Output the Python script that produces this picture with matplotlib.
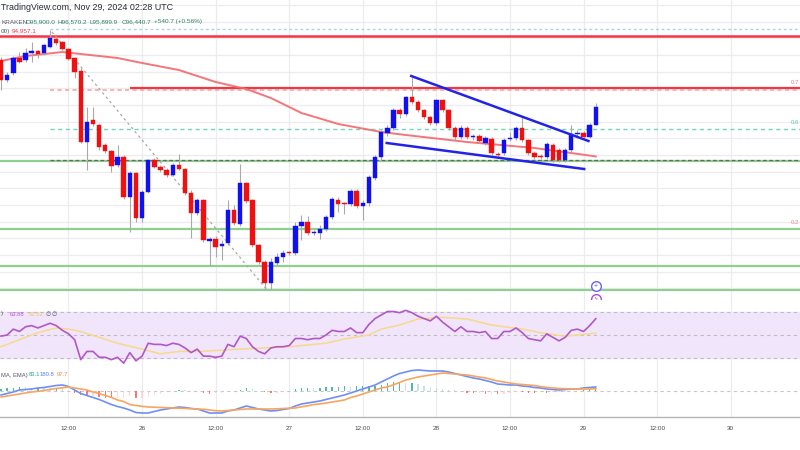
import matplotlib
matplotlib.use("Agg")
import matplotlib.pyplot as plt
import numpy as np

# ---------------- data (BTC/USD 1h, Kraken) ----------------
opens = [97850, 97250, 97460, 97910, 97850, 98060, 98120, 98060, 98240, 98480,
         98390, 98180, 97910, 97520, 95390, 96050, 95900, 95300, 95120, 94700,
         94940, 93740, 94460, 93110, 93890, 94850, 94640, 94550, 94400, 94700,
         94580, 93860, 93260, 93650, 92420, 92480, 92270, 92360, 93350, 92930,
         94160, 93650, 92300, 91790, 91160, 91760, 91940, 92060, 92060, 92870,
         92990, 92660, 92660, 92780, 93140, 93650, 93530, 93530, 93920, 93470,
         93560, 94310, 94940, 95660, 95810, 96350, 96230, 96740, 96590, 96350,
         96140, 95960, 96650, 96350, 95810, 95540, 95810, 95540, 95570, 95360,
         95480, 95030, 95060, 95480, 95510, 95810, 95450, 95060, 94970, 94940,
         95300, 95150, 94850, 95150, 95630, 95660, 95540, 95900.0]
highs = [97940, 97490, 97970, 98090, 98210, 98390, 98150, 98330, 98750, 98540,
         98420, 98210, 97940, 97610, 96440, 96440, 95930, 95360, 95150, 95300,
         95000, 94520, 94490, 93950, 94880, 94910, 94700, 94610, 94760, 95030,
         94610, 93950, 93710, 93680, 92540, 92570, 92450, 93650, 93500, 94730,
         94190, 93680, 92330, 91850, 91910, 92060, 92150, 92120, 92990, 93200,
         93170, 92750, 92900, 93200, 93740, 93740, 93590, 93980, 93980, 93650,
         94400, 95000, 95750, 95900, 96410, 96410, 96770, 97340, 96650, 96380,
         96170, 96680, 96680, 96380, 95870, 95900, 95870, 95630, 95630, 95570,
         95540, 95090, 95510, 95690, 95870, 96140, 95480, 95120, 95030, 95390,
         95360, 95210, 95210, 95900, 95750, 95720, 95960, 96570.2]
lows = [96950, 97190, 97400, 97760, 97790, 97790, 97910, 98000, 98210, 98300,
        98150, 97850, 97310, 95360, 94550, 95870, 95150, 95060, 94490, 94640,
        93680, 92690, 92990, 92990, 93860, 94610, 94490, 94340, 94370, 94550,
        93800, 92510, 93200, 92390, 91670, 91940, 91850, 92300, 92900, 92870,
        93560, 92240, 91730, 90950, 90950, 91700, 91790, 92000, 92000, 92450,
        92600, 92600, 92480, 92720, 93080, 93290, 93230, 93470, 93410, 93050,
        93470, 94250, 94850, 95570, 95750, 96110, 96170, 96530, 96290, 96080,
        95900, 95900, 96290, 95750, 95450, 95480, 95480, 95450, 95360, 95300,
        95000, 94910, 95000, 95420, 95450, 95390, 95000, 94880, 94880, 94880,
        94790, 94790, 94790, 95090, 95570, 95510, 95510, 95899.9]
closes = [97250, 97400, 97910, 97790, 98060, 98120, 98030, 98300, 98510, 98360,
          98180, 97880, 97490, 95390, 95990, 95930, 95240, 95120, 94670, 94940,
          93740, 94460, 93110, 93890, 94850, 94640, 94550, 94400, 94700, 94580,
          93860, 93260, 93650, 92450, 92480, 92240, 92330, 93350, 92960, 94160,
          93620, 92300, 91790, 91160, 91790, 91940, 92060, 92050, 92870, 92990,
          92660, 92670, 92780, 93140, 93680, 93530, 93520, 93920, 93470, 93560,
          94340, 94940, 95690, 95810, 96350, 96230, 96740, 96590, 96350, 96140,
          95960, 96650, 96350, 95810, 95540, 95810, 95540, 95550, 95420, 95510,
          95060, 95000, 95450, 95510, 95810, 95450, 95060, 94940, 94940, 95330,
          94850, 94850, 95150, 95630, 95660, 95540, 95900, 96440.7]

# 100-period SMA (anchor readings)
sma_idx = [0, 4, 10, 13, 19, 23, 29, 35, 40, 44, 49, 55, 62, 66, 76, 87, 97]
sma_val = [97820, 97970, 98090, 98030, 97910, 97760, 97550, 97190, 96980, 96710,
           96260, 95930, 95690, 95600, 95390, 95210, 94957.1]

# RSI (14) and its moving average
rsi = [49, 50, 55, 53, 57, 58, 56, 58, 60, 58,
       54, 51, 46, 29, 36, 36, 31, 31, 29, 31,
       26, 35, 28, 32, 43, 42, 42, 41, 43, 42,
       39, 35, 38, 32, 32, 31, 32, 42, 40, 49,
       47, 40, 36, 34, 39, 40, 40, 41, 47, 47,
       46, 47, 47, 50, 54, 53, 53, 56, 52, 52,
       59, 64, 67, 70, 70, 69, 71, 69, 66, 64,
       62, 66, 61, 57, 53, 57, 53, 53, 52, 53,
       47, 47, 53, 53, 56, 52, 47, 46, 45, 51,
       48, 45, 48, 54, 55, 53, 58, 63.88]
rsi_ma_idx = [0, 3, 6, 9, 11, 13, 16, 19, 23, 26, 29, 32, 36, 39, 43, 47, 50, 53,
              56, 60, 62, 65, 68, 72, 76, 80, 85, 89, 92, 97]
rsi_ma_val = [40, 46, 52, 56, 55, 53, 48, 43, 38, 34, 36, 36, 37, 38, 39, 40, 41.5, 43,
              46.6, 50, 55, 58.5, 63.6, 65, 63.6, 58.5, 55, 51, 49, 51.52]

# MACD (12, 26, 9)
macd = [-180, -112, -45, 45, 68, 90, 135, 158, 202, 248,
        270, 202, 45, -112, -202, -292, -382, -495, -608, -698,
        -765, -855, -968, -990, -990, -922, -855, -810, -765, -720,
        -742, -788, -810, -900, -990, -990, -990, -900, -855, -765,
        -675, -742, -810, -855, -900, -878, -832, -788, -675, -585,
        -540, -495, -450, -382, -315, -248, -180, -90, 0, 90,
        180, 270, 405, 540, 675, 788, 855, 922, 945, 922,
        900, 900, 900, 855, 788, 720, 652, 585, 540, 472,
        405, 315, 292, 270, 270, 225, 202, 158, 135, 90,
        68, 45, 68, 90, 90, 135, 158, 180.8]
signal = [-270, -225, -180, -135, -90, -45, -14, 22, 68, 112,
          148, 180, 135, 90, 45, -45, -112, -202, -284, -405,
          -472, -608, -652, -688, -720, -729, -742, -752, -765, -774,
          -788, -796, -810, -824, -855, -886, -900, -878, -855, -832,
          -810, -810, -810, -810, -810, -801, -788, -774, -765, -711,
          -666, -608, -585, -540, -495, -450, -405, -292, -225, -135,
          -45, 45, 135, 180, 279, 382, 495, 562, 630, 675,
          720, 765, 810, 788, 765, 742, 720, 675, 630, 585,
          518, 450, 405, 360, 315, 292, 270, 248, 202, 158,
          135, 112, 104, 99, 90, 90, 90, 97.7]

# time axis (hourly bars, bar 0 = Nov 25 01:00)
tick_idx = [11, 23, 35, 47, 59, 71, 83, 95, 107, 119]
tick_lbl = ["12:00", "26", "12:00", "27", "12:00", "28", "12:00", "29", "12:00", "30"]

# drawn levels / tools
resistance_top = 98570
resistance_mid = 97010
support_levels = [94820, 92780, 91670, 90940]
fib_top = 98780
fib_786 = 96960
fib_618 = 95780
fib_500 = 94850
fib_start = 8
fib_diag_idx = [8.3, 43.4]
fib_diag_val = [98690, 90950]
wedge_upper_idx = [66.9, 95.8]
wedge_upper_val = [97370, 95420]
wedge_lower_idx = [62.9, 95.1]
wedge_lower_val = [95360, 94580]

# ---------------- figure ----------------
plt.rcParams['font.family'] = ['Liberation Sans', 'DejaVu Sans']
W, H = 800, 450
fig = plt.figure(figsize=(8, 4.5), dpi=100)
fig.patch.set_facecolor("white")


def rect(top, bottom):
    return [0, 1 - bottom / H, 1, (bottom - top) / H]


ax = fig.add_axes(rect(0, 300))
ax_rsi = fig.add_axes(rect(300, 366), sharex=ax)
ax_macd = fig.add_axes(rect(366, 417), sharex=ax)

XMIN, XMAX = -0.17, 130.3
grid_c = "#ececf0"
for a in (ax, ax_rsi, ax_macd):
    a.set_facecolor("white")
    for s in a.spines.values():
        s.set_visible(False)
    a.tick_params(left=False, labelleft=False, bottom=False, labelbottom=False)
    for t in tick_idx:
        a.axvline(t, color=grid_c, lw=0.9, zorder=0)
ax.set_xlim(XMIN, XMAX)

# ---- main pane ----
ax.set_ylim(90650, 99650)
for p in range(91000, 99600, 500):
    ax.axhline(p, color=grid_c, lw=0.9, zorder=0)

# levels
ax.axhline(resistance_top, color="#f23645", lw=1.8, zorder=2)
ax.hlines(resistance_mid, 21, XMAX, color="#f23645", lw=1.6, zorder=2)
ax.hlines(fib_top, fib_start, XMAX, color="#a9d3f2", lw=1.0, linestyles=(0, (2, 2)), zorder=2)
ax.hlines(fib_786, fib_start, XMAX, color="#f9a3a3", lw=1.2, linestyles=(0, (2.5, 2)), zorder=2)
ax.hlines(fib_618, fib_start, XMAX, color="#72d6bd", lw=1.0, linestyles=(0, (3, 2.5)), zorder=2)
for lv in support_levels:
    ax.axhline(lv, color="#8fd08f", lw=1.6, zorder=2)
ax.hlines(fib_500, fib_start, XMAX, color="#666666", lw=0.9, linestyles=(0, (3, 2)), zorder=2)
ax.plot(fib_diag_idx, fib_diag_val, color="#a8a8a8", lw=0.9, ls=(0, (2, 2.5)), zorder=2)

# SMA
ax.plot(sma_idx, sma_val, color="#f4676c", lw=1.4, zorder=3, alpha=0.9)

# candles
o = np.array(opens); c = np.array(closes); hi = np.array(highs); lo = np.array(lows)
idx = np.arange(len(o))
up = c >= o
cols = np.where(up, "#1010f0", "#f01010")
ax.vlines(idx, lo, hi, color="#a9a9a9", lw=0.8, zorder=4)
body_b = np.minimum(o, c)
body_h = np.maximum(np.abs(c - o), 35)
ax.bar(idx, body_h, bottom=body_b, width=0.72, color=cols, edgecolor=cols, lw=0.3, zorder=5)

# wedge
ax.plot(wedge_upper_idx, wedge_upper_val, color="#2323e6", lw=1.8, zorder=6)
ax.plot(wedge_lower_idx, wedge_lower_val, color="#2323e6", lw=1.8, zorder=6)

# event markers
ax.plot([97], [91070], marker="o", ms=7, mfc="white", mec="#6b63e8", mew=1.0, zorder=7)
ax.text(97, 91070, "+", color="#6b63e8", fontsize=5, ha="center", va="center", zorder=8)
ax.plot([97], [90680], marker="o", ms=7, mfc="white", mec="#b04cc8", mew=1.0, zorder=7)
ax.text(97, 90680, "ϟ", color="#b04cc8", fontsize=4.5, ha="center", va="center", zorder=8,
        family=['DejaVu Sans'])

# fib labels at right edge
for lv, lab, col in ((fib_786, "0.7", "#f07f86"), (fib_618, "0.6", "#5cc9ac"),
                     (support_levels[1], "0.2", "#f07f86")):
    ax.text(XMAX - 0.15, lv + 130, lab, color=col, fontsize=4.3, va="bottom", ha="right")

# ---- RSI pane ----
ax_rsi.set_ylim(23.6, 79.8)
ax_rsi.axhspan(30, 70, color="#f1e5fb", zorder=0.5)
for lv in (70, 50, 30):
    ax_rsi.axhline(lv, color="#bdbdbd", lw=0.8, ls=(0, (3, 3)), zorder=1)
ax_rsi.plot(idx, rsi, color="#b158c6", lw=1.2, zorder=3)
ax_rsi.plot(rsi_ma_idx, rsi_ma_val, color="#f6d98a", lw=1.1, zorder=2)

# ---- MACD pane ----
ax_macd.set_ylim(-1170, 1125)
ax_macd.axhline(0, color="#c8c8c8", lw=0.8, ls=(0, (3, 3)), zorder=1)
m = np.array(macd); s = np.array(signal)
hist = m - s
prev = np.concatenate([[hist[0]], hist[:-1]])
hcols = []
for hv, pv in zip(hist, prev):
    if hv >= 0:
        hcols.append("#26a69a" if hv >= pv else "#b2dfdb")
    else:
        hcols.append("#ffcdd2" if hv >= pv else "#ff5252")
ax_macd.bar(idx, hist, width=0.22, color=hcols, zorder=2, alpha=0.8)
ax_macd.plot(idx, macd, color="#6e8ff5", lw=1.2, zorder=3)
ax_macd.plot(idx, signal, color="#f8a560", lw=1.2, zorder=3)
ax_macd.spines['bottom'].set_visible(True)
ax_macd.spines['bottom'].set_color("#b5b5b5")
ax_macd.spines['bottom'].set_linewidth(1.0)
ax_macd.set_xticks(tick_idx)
ax_macd.set_xticklabels(tick_lbl)
ax_macd.tick_params(bottom=False, labelbottom=True, labelsize=4.6, labelcolor="#4a4a4a", pad=3)


# ---- header texts ----
def ftxt(x, y, s, **kw):
    fig.text(x / W, 1 - y / H, s, va="center", ha="left", **kw)


ftxt(1, 7, "TradingView.com, Nov 29, 2024 02:28 UTC", fontsize=6.4, color="#2a2e39")
ftxt(1, 22, "KRAKEN", fontsize=4.6, color="#555a66")
vals = [(26, "O95,900.0"), (58, "H96,570.2"), (90, "L95,899.9"), (122, "C96,440.7"),
        (154, "+540.7 (+0.56%)")]
for x, s_ in vals:
    ftxt(x, 22, s_, fontsize=4.6, color="#2e7d60")
ftxt(1, 31, "00)", fontsize=4.6, color="#555a66")
ftxt(12, 31, "94,957.1", fontsize=4.6, color="#f23645")

ftxt(1, 314, ")", fontsize=4.2, color="#555a66")
ftxt(10, 314, "63.88", fontsize=4.2, color="#b158c6")
ftxt(29, 314, "51.52", fontsize=4.2, color="#e8c45a")
ftxt(45, 314, "∅", fontsize=4.2, color="#555a66", family=['DejaVu Sans'])
ftxt(52, 314, "∅", fontsize=4.2, color="#555a66", family=['DejaVu Sans'])

ftxt(1, 375, "MA, EMA)", fontsize=4.2, color="#555a66")
ftxt(29, 375, "83.1", fontsize=4.2, color="#26a69a")
ftxt(40, 375, "180.8", fontsize=4.2, color="#5b7ff0")
ftxt(57, 375, "97.7", fontsize=4.2, color="#f08a3c")

fig.savefig("out.png", dpi=100, facecolor="white")
